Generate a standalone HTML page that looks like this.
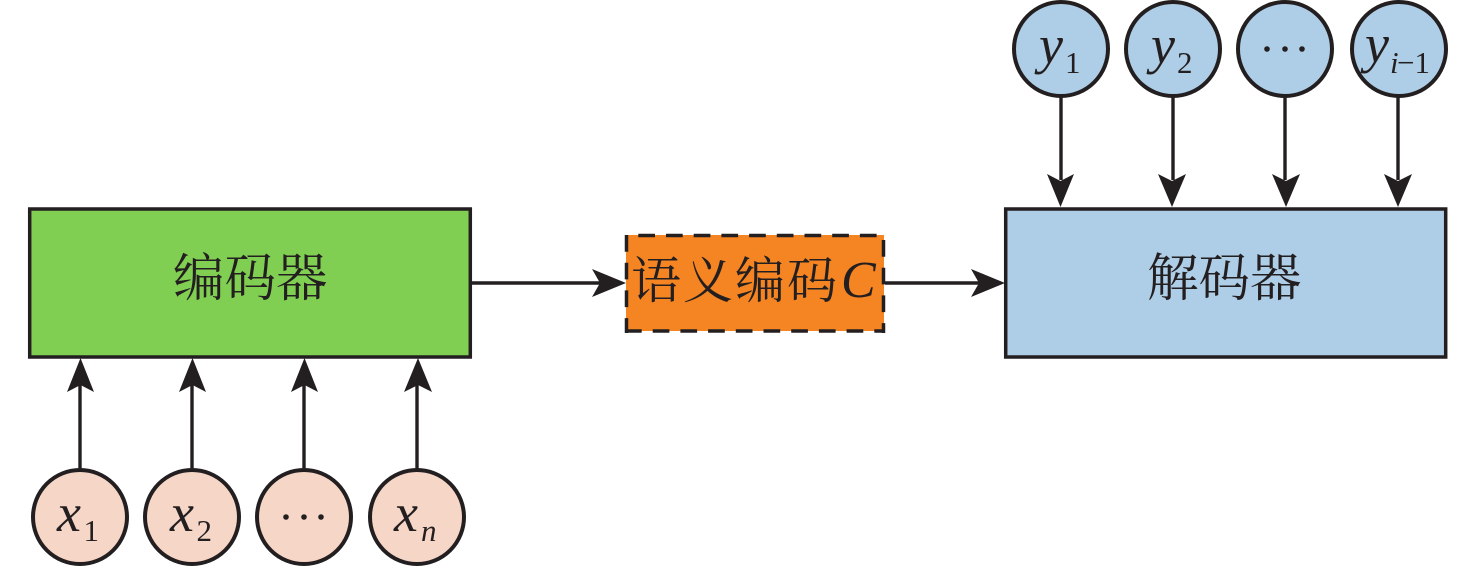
<!DOCTYPE html>
<html><head><meta charset="utf-8"><style>
html,body{margin:0;padding:0;background:#fff;width:1476px;height:567px;overflow:hidden}
svg{display:block}
.z{font-family:"Noto Serif CJK SC","Liberation Serif",serif;font-size:51.500px;fill:#231f20}
.i{font-family:"Liberation Serif",serif;font-style:italic;fill:#231f20}
.n{font-family:"Liberation Serif",serif;fill:#231f20}
</style></head><body>
<svg width="1476" height="567" viewBox="0 0 1476 567" xmlns="http://www.w3.org/2000/svg">
<rect x="29.700" y="209" width="440.600" height="148" fill="#80cf52" stroke="#231f20" stroke-width="3.500"/>
<rect x="1005.700" y="209" width="440" height="148" fill="#aecde6" stroke="#231f20" stroke-width="3.500"/>
<rect x="626" y="235" width="258" height="96" fill="#f58423"/>
<g fill="none" stroke="#231f20" stroke-width="3.500" stroke-dasharray="16.700 11">
<path d="M638.300 235.500H884"/>
<path d="M625 331H885"/>
<path d="M626.500 235V333"/>
<path d="M883.500 240V333"/>
</g>
<g stroke="#231f20" stroke-width="3.400" fill="none">
<path d="M80 470V385M192 470V385M304 470V385M417 470V385"/>
<path d="M1061 97V180M1173 97V180M1285 97V180M1398 97V180"/>
<path d="M471 283H600M885 283H980"/>
</g>
<g fill="#231f20">
<path d="M80.500 358L94 392L80.500 385L67 392Z"/>
<path d="M192.500 358L206 392L192.500 385L179 392Z"/>
<path d="M304.500 358L318 392L304.500 385L291 392Z"/>
<path d="M418 358L432 392L418 385L404 392Z"/>
<path d="M1060.500 207L1047 174L1060.500 181L1074 174Z"/>
<path d="M1172 207L1158 174L1172 181L1186 174Z"/>
<path d="M1286 207L1272 174L1286 181L1300 174Z"/>
<path d="M1398 207L1384 174L1398 181L1412 174Z"/>
<path d="M626 283L592 269L600 283L592 297Z"/>
<path d="M1005 283L971 269L979 283L971 297Z"/>
</g>
<g fill="#f6d6c7" stroke="#231f20" stroke-width="4">
<circle cx="80" cy="517" r="47"/><circle cx="192" cy="517" r="47"/><circle cx="304" cy="517" r="47"/><circle cx="417" cy="517" r="47"/>
</g>
<g fill="#aecde6" stroke="#231f20" stroke-width="4">
<circle cx="1061" cy="49" r="47"/><circle cx="1173" cy="49" r="47"/><circle cx="1285" cy="49" r="47"/><circle cx="1399" cy="49" r="47"/>
</g>
<text class="z" x="173" y="296">编码器</text>
<text class="z" x="1147" y="296">解码器</text>
<text class="z" x="631" y="298" style="font-size:50px;letter-spacing:2px">语义编码</text>
<text class="i" x="841" y="297" font-size="52">C</text>
<g font-size="54">
<text class="i" x="57" y="531">x</text><text class="i" x="170" y="531">x</text><text class="i" x="394" y="531">x</text>
<text class="i" x="1039" y="63">y</text><text class="i" x="1151" y="63">y</text><text class="i" x="1365" y="62">y</text>
</g>
<g font-size="31">
<text class="n" x="83.500" y="541">1</text><text class="n" x="196.500" y="541">2</text><text class="i" x="421" y="541">n</text>
<text class="n" x="1065" y="73">1</text><text class="n" x="1177" y="73">2</text>
<text class="i" x="1390" y="73">i</text><text class="n" x="1397" y="73">−1</text>
</g>
<g fill="#231f20">
<circle cx="286" cy="517" r="2.800"/><circle cx="304" cy="517" r="2.800"/><circle cx="321" cy="517" r="2.800"/>
<circle cx="1267" cy="49" r="2.800"/><circle cx="1285" cy="49" r="2.800"/><circle cx="1302" cy="49" r="2.800"/>
</g>
</svg>
</body></html>
